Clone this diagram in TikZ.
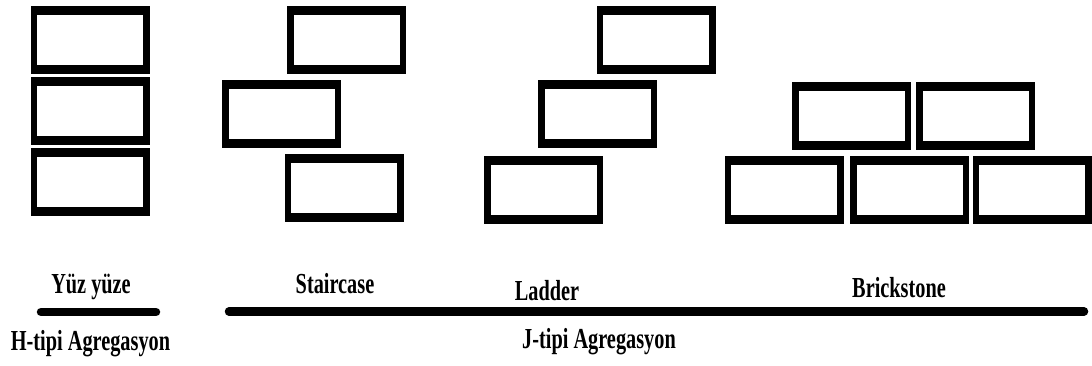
\documentclass[tikz,border=0pt]{standalone}
\usepackage{fontspec}
\setmainfont{Liberation Serif}
\usepackage{graphicx}
\newcommand{\aglabel}[1]{\scalebox{0.7}[1]{\bfseries #1}}
\tikzset{
  brick/.style={rectangle, fill=black, minimum width=119pt, minimum height=68pt,
    inner sep=0pt, outer sep=0pt,
    path picture={\fill[white] ([shift={(6.5pt,-9pt)}]path picture bounding box.north west)
      rectangle ([shift={(-6.5pt,9pt)}]path picture bounding box.south east);}},
  typename/.style={anchor=base, inner sep=0pt, font=\fontsize{29}{32}\selectfont},
  bar/.style={line width=8.5pt, line cap=round}
}

\begin{document}
\begin{tikzpicture}[x=1pt,y=-1pt]
\useasboundingbox (0,0) rectangle (1092,365);
% face to face stack
\foreach \y [count=\i] in {40,111,182}
  \node[brick] (yy\i) at (90,\y) {};
% staircase
\foreach \x/\y [count=\i] in {346.5/40,281.5/114,344/188}
  \node[brick] (st\i) at (\x,\y) {};
% ladder
\foreach \x/\y [count=\i] in {656/40,597.5/114,543.5/189.5}
  \node[brick] (la\i) at (\x,\y) {};
% brickstone wall
\foreach \x/\y [count=\i] in {851.5/116,975.5/116,784/189.5,909.5/189.5,1032/189.5}
  \node[brick] (bs\i) at (\x,\y) {};
% names over the bars
\node[typename] (yyname) at (91,293) {\aglabel{Yüz yüze}};
\node[typename] (stname) at (335,293) {\aglabel{Staircase}};
\node[typename] (laname) at (547,300) {\aglabel{Ladder}};
\node[typename] (bsname) at (899,297) {\aglabel{Brickstone}};
% bars
\draw[bar] (41,312) -- (156,312);
\draw[bar] (229,311.5) -- (1084,311.5);
% aggregation types
\node[typename] (hname) at (90.5,350) {\aglabel{H-tipi Agregasyon}};
\node[typename] (jname) at (599,348) {\aglabel{J-tipi Agregasyon}};
\end{tikzpicture}
\end{document}
